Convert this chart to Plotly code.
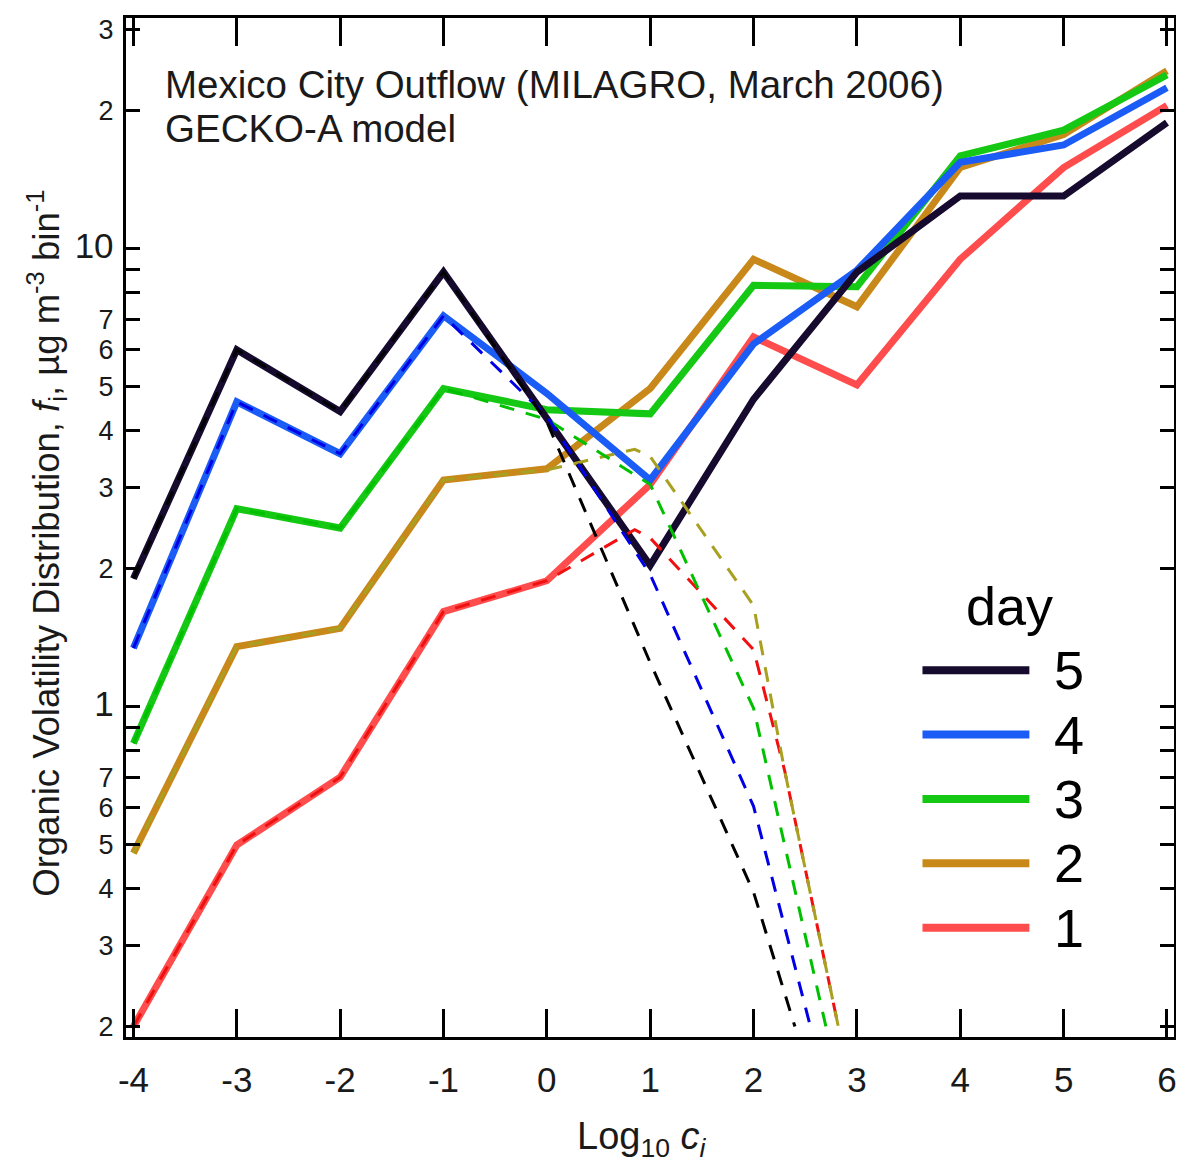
import plotly.graph_objects as go

# ---------------- data ----------------
log_c = [-4, -3, -2, -1, 0, 1, 2, 3, 4, 5, 6]

day5 = [1.90, 6.0, 4.40, 8.87, 4.25, 2.03, 4.68, 8.87, 13.0, 13.0, 18.8]
day4 = [1.34, 4.62, 3.56, 7.12, 4.82, 3.12, 6.18, 8.95, 15.4, 16.8, 22.4]
day3 = [0.83, 2.70, 2.45, 4.94, 4.44, 4.35, 8.30, 8.24, 15.9, 18.1, 23.9]
day2 = [0.478, 1.35, 1.48, 3.12, 3.30, 4.94, 9.46, 7.45, 15.0, 17.7, 24.4]
day1 = [0.20, 0.498, 0.70, 1.61, 1.88, 3.05, 6.40, 5.03, 9.46, 15.0, 20.5]

# dashed companions (they stop where they reach the bottom)
day5_dash_x = [-4, -3, -2, -1, 0, 1, 2, 2.40]
day5_dash_y = [1.90, 6.0, 4.40, 8.87, 4.18, 1.245, 0.393, 0.20]
day4_dash_x = [-4, -3, -2, -1, 0, 1, 2, 2.55]
day4_dash_y = [1.34, 4.62, 3.56, 7.12, 4.30, 1.94, 0.605, 0.20]
day3_dash_x = [-4, -3, -2, -1, 0, 1, 2, 2.70]
day3_dash_y = [0.83, 2.70, 2.45, 4.94, 4.23, 3.05, 0.99, 0.20]
day2_dash_x = [-4, -3, -2, -1, 0, 0.85, 1, 2, 2.30, 2.82]
day2_dash_y = [0.478, 1.35, 1.48, 3.12, 3.28, 3.64, 3.51, 1.66, 0.725, 0.20]
day1_dash_x = [-4, -3, -2, -1, 0, 0.85, 1, 2, 2.30, 2.82]
day1_dash_y = [0.20, 0.498, 0.70, 1.61, 1.88, 2.43, 2.33, 1.33, 0.725, 0.20]

day_names = ["5", "4", "3", "2", "1"]
solid_colors = ["#160b2e", "#1a5cf5", "#14c814", "#c8881a", "#ff4c4c"]
dash_colors = ["#000000", "#0000e6", "#00c000", "#a8a020", "#f01010"]

x_tick_vals = [-4, -3, -2, -1, 0, 1, 2, 3, 4, 5, 6]
x_tick_text = ["-4", "-3", "-2", "-1", "0", "1", "2", "3", "4", "5", "6"]

y_label_vals = [0.2, 0.3, 0.4, 0.5, 0.6, 0.7, 1, 2, 3, 4, 5, 6, 7, 10, 20, 30]
y_label_text = ["2", "3", "4", "5", "6", "7", "1", "2", "3", "4", "5", "6", "7", "10", "2", "3"]
y_major_vals = [1, 10]
y_minor_vals = [0.8, 0.9, 8, 9]

FONT = "Liberation Sans, Arial, sans-serif"
TXT = "#1a1a1a"

solid_series = [day5, day4, day3, day2, day1]
dash_series = [(day5_dash_x, day5_dash_y), (day4_dash_x, day4_dash_y),
               (day3_dash_x, day3_dash_y), (day2_dash_x, day2_dash_y),
               (day1_dash_x, day1_dash_y)]

fig = go.Figure()

# solid lines: day 1 at bottom, day 5 on top
for name, ys, col in reversed(list(zip(day_names, solid_series, solid_colors))):
    fig.add_trace(go.Scatter(x=log_c, y=ys, mode="lines", name="day " + name,
                             line=dict(color=col, width=7), showlegend=False))

# dashed lines on top
for name, (dx, dy), col in reversed(list(zip(day_names, dash_series, dash_colors))):
    fig.add_trace(go.Scatter(x=dx, y=dy, mode="lines", name="day " + name + " (dashed)",
                             line=dict(color=col, width=3, dash="15px,12px"),
                             showlegend=False))

big = "<span style='font-size:35px'>%s</span>"
ticktext = [big % t if v in y_major_vals else t for v, t in zip(y_label_vals, y_label_text)]

yrange = [-0.7218, 1.5025]
xrange = [-4.072, 6.068]

# page body has an 8px default margin, so the figure is 8px smaller and shifted
fig.update_layout(
    width=1176, height=1159, autosize=False,
    margin=dict(l=118, r=7, t=7, b=130),
    paper_bgcolor="white", plot_bgcolor="white",
    font=dict(family=FONT, color=TXT),
    showlegend=False,
    xaxis=dict(
        range=xrange, tickmode="array", tickvals=x_tick_vals, ticktext=x_tick_text,
        ticks="inside", ticklen=28, tickwidth=2.5, tickcolor="black",
        showline=True, linewidth=3, linecolor="black", mirror="ticks",
        showgrid=False, zeroline=False,
        tickfont=dict(size=35, family=FONT, color=TXT),
        ticklabelstandoff=10,
    ),
    yaxis=dict(
        type="log", range=yrange, tickmode="array", tickvals=y_label_vals, ticktext=ticktext,
        ticks="inside", ticklen=14, tickwidth=2.5, tickcolor="black",
        minor=dict(tickmode="array", tickvals=y_minor_vals, ticks="inside", ticklen=14,
                   tickwidth=2.5, tickcolor="black", showgrid=False),
        showline=True, linewidth=3, linecolor="black", mirror="ticks",
        showgrid=False, zeroline=False,
        tickfont=dict(size=27, family=FONT, color=TXT),
        ticklabelstandoff=4,
    ),
    yaxis2=dict(
        type="log", range=yrange, overlaying="y", side="left", anchor="x",
        tickmode="array", tickvals=y_major_vals, showticklabels=False,
        ticks="inside", ticklen=26, tickwidth=2.5, tickcolor="black",
        showline=False, mirror="ticks", showgrid=False, zeroline=False,
    ),
)

# axis titles
fig.add_annotation(xref="paper", yref="paper", x=-0.0761, y=0.4843, xanchor="center", yanchor="middle",
                   textangle=-90, showarrow=False,
                   text="Organic Volatility Distribution, <i>f</i><sub>i</sub>, µg m<sup>-3</sup> bin<sup>-1</sup>",
                   font=dict(size=36.5, family=FONT, color=TXT))
fig.add_annotation(xref="paper", yref="paper", x=0.4928, y=-0.1, xanchor="center", yanchor="middle",
                   showarrow=False, text="Log<sub>10</sub> <i>c<sub>i</sub></i>",
                   font=dict(size=38, family=FONT, color=TXT))

# header text
fig.add_annotation(xref="paper", yref="paper", x=0.035, y=0.9344, xanchor="left", yanchor="middle",
                   text="Mexico City Outflow (MILAGRO, March 2006)", showarrow=False,
                   font=dict(size=38.5, family=FONT, color=TXT))
fig.add_annotation(xref="paper", yref="paper", x=0.035, y=0.892, xanchor="left", yanchor="middle",
                   text="GECKO-A model", showarrow=False,
                   font=dict(size=38.5, family=FONT, color=TXT))

# manual legend with long line samples
fig.add_annotation(xref="paper", yref="paper", x=0.843, y=0.4227, xanchor="center", yanchor="middle",
                   text="day", showarrow=False, font=dict(size=54, family=FONT, color="black"))
for i, (name, col) in enumerate(zip(day_names, solid_colors)):
    yy = 0.360 - i * 0.0632
    fig.add_shape(type="line", xref="paper", yref="paper", x0=0.760, x1=0.862, y0=yy, y1=yy,
                  line=dict(color=col, width=8))
    fig.add_annotation(xref="paper", yref="paper", x=0.884, y=yy, xanchor="left", yanchor="middle",
                       text=name, showarrow=False, font=dict(size=54, family=FONT, color="black"))

fig.write_html("out.html")
